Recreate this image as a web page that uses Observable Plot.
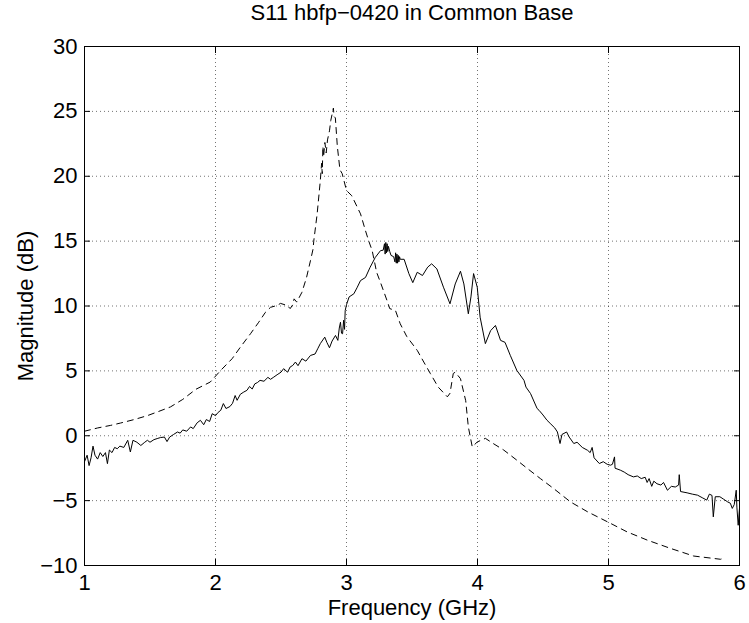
<!DOCTYPE html>
<html><head><meta charset="utf-8">
<script src="https://cdn.jsdelivr.net/npm/d3@7"></script>
<script src="https://cdn.jsdelivr.net/npm/@observablehq/plot@0.6"></script>
<style>body{margin:0;background:#fff} svg{display:block}</style>
</head><body><div id="chart"></div>
<script>
const title = "S11 hbfp\u22120420 in Common Base";
const xLabel = "Frequency (GHz)";
const yLabel = "Magnitude (dB)";
const xTicks = [1, 2, 3, 4, 5, 6];
const yTicks = [-10, -5, 0, 5, 10, 15, 20, 25, 30];

const solidFreq = [1.00,1.02,1.035,1.05,1.065,1.08,1.10,1.12,1.14,1.16,1.175,1.19,1.21,1.23,1.25,1.27,1.30,1.33,1.35,1.37,1.40,1.43,1.46,1.48,1.50,1.53,1.56,1.58,1.61,1.63,1.65,1.68,1.71,1.73,1.75,1.78,1.81,1.83,1.86,1.885,1.91,1.93,1.955,1.975,2.00,2.02,2.04,2.06,2.08,2.11,2.13,2.15,2.165,2.19,2.216,2.24,2.26,2.28,2.30,2.32,2.34,2.37,2.40,2.42,2.445,2.47,2.50,2.52,2.55,2.57,2.59,2.61,2.63,2.66,2.69,2.725,2.76,2.78,2.80,2.834,2.85,2.87,2.89,2.916,2.934,2.945,2.954,2.962,2.97,2.978,2.985,2.99,3.00,3.02,3.056,3.08,3.107,3.145,3.18,3.22,3.26,3.28,3.29,3.295,3.30,3.305,3.31,3.315,3.32,3.33,3.34,3.36,3.37,3.375,3.38,3.385,3.39,3.395,3.40,3.405,3.41,3.44,3.476,3.506,3.54,3.58,3.62,3.65,3.69,3.74,3.79,3.83,3.87,3.896,3.93,3.95,3.97,3.998,4.02,4.06,4.10,4.137,4.176,4.21,4.25,4.30,4.355,4.37,4.405,4.455,4.47,4.50,4.53,4.56,4.59,4.61,4.63,4.645,4.68,4.70,4.735,4.76,4.80,4.84,4.86,4.875,4.89,4.93,4.96,4.99,5.015,5.03,5.046,5.05,5.09,5.12,5.15,5.19,5.22,5.25,5.28,5.295,5.31,5.33,5.346,5.37,5.40,5.42,5.45,5.48,5.51,5.535,5.54,5.55,5.60,5.64,5.68,5.72,5.75,5.77,5.79,5.80,5.815,5.85,5.88,5.91,5.93,5.945,5.96,5.975,5.98,5.99,6.00];
const solidMag = [-2.0,-1.5,-2.3,-1.7,-0.8,-1.5,-1.8,-1.3,-1.6,-1.3,-2.15,-1.1,-1.3,-0.9,-1.0,-0.8,-0.9,-0.35,-1.25,-0.35,-0.5,-0.75,-0.5,-0.35,-0.5,-0.3,-0.2,-0.14,-0.1,-0.45,-0.1,0.1,0.29,0.2,0.45,0.35,0.68,0.55,1.0,1.19,0.85,1.25,1.1,1.7,1.55,1.8,1.96,2.48,2.1,2.25,2.5,3.1,2.73,3.2,3.37,3.5,3.8,3.6,4.0,4.1,4.27,4.2,4.5,4.35,4.52,4.7,4.9,5.17,4.9,5.3,5.42,5.68,5.4,5.94,5.75,6.19,6.3,6.7,7.1,7.6,7.2,6.78,7.3,7.73,7.35,8.3,8.75,7.9,7.86,8.9,8.2,9.65,10.1,10.7,10.94,11.4,11.96,12.2,12.98,13.75,14.27,14.3,14.8,14.0,14.9,14.1,14.8,14.2,14.6,14.2,13.9,13.8,13.4,14.1,13.3,14.0,13.3,13.9,13.4,13.8,13.6,13.6,12.5,11.8,12.6,12.35,13.0,13.25,12.86,11.45,10.17,11.7,12.68,11.7,9.4,10.7,12.5,11.45,9.14,7.1,8.1,8.5,7.35,7.2,6.2,5.04,4.27,3.75,3.25,2.1,1.96,1.6,1.2,0.9,0.6,0.29,-0.6,0.1,0.29,-0.1,-0.6,-0.5,-0.9,-1.12,-1.3,-0.9,-1.7,-2.14,-2.0,-2.2,-2.27,-2.2,-1.63,-2.5,-2.65,-2.8,-3.0,-3.17,-3.1,-3.3,-3.2,-3.6,-3.3,-3.9,-3.5,-3.7,-3.8,-3.6,-4.2,-3.9,-3.95,-3.8,-3.0,-4.3,-4.4,-4.5,-4.58,-4.8,-4.96,-4.5,-4.6,-6.25,-4.7,-4.7,-4.9,-5.1,-5.2,-5.6,-5.3,-4.2,-5.5,-6.9,-5.6];

const dashedFreq = [1.00,1.10,1.20,1.275,1.38,1.48,1.56,1.656,1.75,1.85,1.96,2.04,2.127,2.19,2.267,2.33,2.38,2.42,2.47,2.496,2.547,2.57,2.59,2.60,2.62,2.66,2.695,2.725,2.745,2.75,2.776,2.80,2.81,2.815,2.82,2.825,2.835,2.845,2.855,2.87,2.88,2.90,2.905,2.915,2.93,2.95,2.967,3.00,3.04,3.107,3.145,3.17,3.196,3.23,3.26,3.31,3.33,3.374,3.41,3.46,3.54,3.59,3.64,3.70,3.77,3.79,3.815,3.83,3.87,3.91,3.93,3.96,3.998,4.06,4.12,4.20,4.30,4.38,4.48,4.58,4.71,4.84,5.015,5.14,5.295,5.473,5.65,5.855,5.89];
const dashedMag = [0.35,0.6,0.8,0.98,1.25,1.55,1.85,2.22,2.8,3.58,4.14,5.04,5.94,6.83,7.86,8.75,9.5,9.9,10.04,10.2,10.04,9.8,10.1,10.55,10.3,11.06,12.2,13.5,14.4,15.0,17.1,19.65,21.0,20.2,22.3,21.5,22.6,21.8,22.8,23.5,24.3,25.25,24.6,24.5,22.3,20.5,20.2,18.9,18.5,17.1,15.8,15.0,14.27,12.6,11.8,10.4,9.8,9.65,8.63,7.65,6.58,5.68,4.8,3.75,3.0,3.27,4.8,4.9,4.4,2.7,0.68,-0.86,-0.48,-0.2,-0.6,-1.1,-1.88,-2.52,-3.3,-4.06,-5.1,-5.86,-6.75,-7.4,-8.04,-8.68,-9.27,-9.52,-9.4];

const solid = solidFreq.map((f, i) => ({f, m: solidMag[i]}));
const dashed = dashedFreq.map((f, i) => ({f, m: dashedMag[i]}));

const font = "'Liberation Sans', Arial, Helvetica, sans-serif";
const fs = 22;
const gridStyle = {stroke: "#000", strokeOpacity: 0.55, strokeDasharray: "1,3", strokeWidth: 1};

const chart = Plot.plot({
  width: 749, height: 623,
  marginLeft: 84, marginRight: 10, marginTop: 46, marginBottom: 58,
  style: {fontFamily: font, fontSize: fs + "px", background: "#fff", color: "#000"},
  x: {domain: [1, 6]},
  y: {domain: [-10, 30]},
  marks: [
    Plot.gridX(xTicks, gridStyle),
    Plot.gridY(yTicks, gridStyle),
    Plot.line(dashed, {x: "f", y: "m", stroke: "#000", strokeWidth: 1, strokeDasharray: "6,5"}),
    Plot.line(solid, {x: "f", y: "m", stroke: "#000", strokeWidth: 1}),
    Plot.frame({stroke: "#000", strokeWidth: 1}),
    Plot.axisX(xTicks, {anchor: "bottom", tickSize: 0, tickPadding: 9, tickFormat: "d", label: null, fontSize: fs}),
    Plot.axisX(xTicks, {anchor: "bottom", tickSize: -6, fill: "none", label: null}),
    Plot.axisX(xTicks, {anchor: "top", tickSize: -6, fill: "none", label: null}),
    Plot.axisY(yTicks, {anchor: "left", tickSize: 0, tickPadding: 7, tickFormat: "d", label: null, fontSize: fs}),
    Plot.axisY(yTicks, {anchor: "left", tickSize: -6, fill: "none", label: null}),
    Plot.axisY(yTicks, {anchor: "right", tickSize: -6, fill: "none", label: null}),
    Plot.text([title], {text: d => d, frameAnchor: "top", dy: -34, lineAnchor: "middle", textAnchor: "middle", fontSize: fs}),
    Plot.text([xLabel], {text: d => d, frameAnchor: "bottom", dy: 42, lineAnchor: "middle", textAnchor: "middle", fontSize: fs}),
    Plot.text([yLabel], {text: d => d, frameAnchor: "left", dx: -59, rotate: -90, lineAnchor: "middle", textAnchor: "middle", fontSize: fs})
  ]
});
document.getElementById("chart").appendChild(chart);
</script>
</body></html>
